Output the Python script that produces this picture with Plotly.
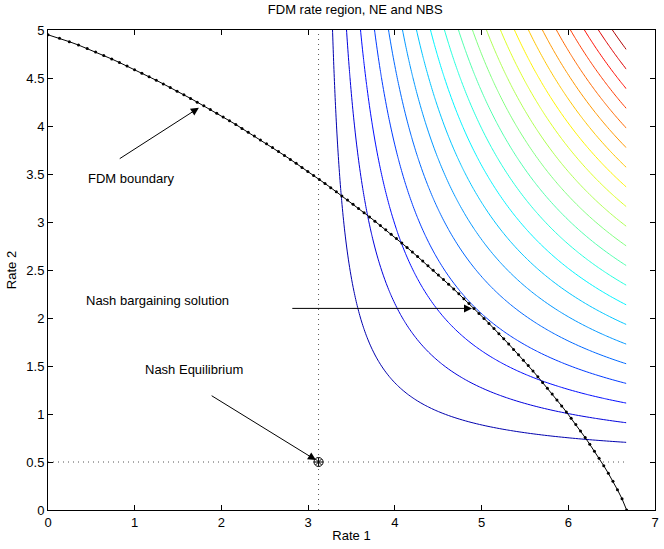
import numpy as np
import plotly.graph_objects as go

# ---------------- data ----------------
# FDM boundary (Rate 1, Rate 2)
fdm_rate1 = [
    0.000, 0.133, 0.246, 0.352, 0.452, 0.549, 0.643, 0.735, 0.824, 0.912,
    0.998, 1.083, 1.166, 1.249, 1.330, 1.410, 1.489, 1.567, 1.644, 1.721,
    1.797, 1.872, 1.946, 2.020, 2.093, 2.166, 2.237, 2.309, 2.380, 2.450,
    2.520, 2.589, 2.658, 2.727, 2.795, 2.862, 2.929, 2.996, 3.063, 3.129,
    3.194, 3.260, 3.325, 3.389, 3.454, 3.518, 3.581, 3.645, 3.708, 3.770,
    3.833, 3.895, 3.957, 4.018, 4.080, 4.141, 4.202, 4.262, 4.322, 4.382,
    4.442, 4.502, 4.561, 4.620, 4.679, 4.738, 4.796, 4.855, 4.913, 4.970,
    5.028, 5.085, 5.143, 5.200, 5.256, 5.313, 5.369, 5.426, 5.482, 5.538,
    5.593, 5.649, 5.704, 5.759, 5.814, 5.869, 5.924, 5.978, 6.033, 6.087,
    6.141, 6.195, 6.248, 6.302, 6.355, 6.409, 6.462, 6.515, 6.567, 6.620,
    6.673,
]
fdm_rate2 = [
    4.950, 4.914, 4.878, 4.843, 4.807, 4.770, 4.734, 4.698, 4.661, 4.624,
    4.587, 4.550, 4.513, 4.476, 4.438, 4.401, 4.363, 4.325, 4.287, 4.248,
    4.210, 4.171, 4.132, 4.093, 4.054, 4.015, 3.975, 3.935, 3.895, 3.855,
    3.815, 3.775, 3.734, 3.693, 3.652, 3.611, 3.569, 3.527, 3.485, 3.443,
    3.401, 3.358, 3.315, 3.272, 3.229, 3.185, 3.141, 3.097, 3.053, 3.008,
    2.963, 2.918, 2.872, 2.827, 2.780, 2.734, 2.687, 2.640, 2.593, 2.545,
    2.497, 2.449, 2.400, 2.351, 2.302, 2.252, 2.201, 2.151, 2.100, 2.048,
    1.996, 1.944, 1.891, 1.837, 1.783, 1.729, 1.673, 1.618, 1.561, 1.504,
    1.447, 1.388, 1.329, 1.269, 1.209, 1.147, 1.084, 1.021, 0.956, 0.890,
    0.823, 0.754, 0.684, 0.612, 0.538, 0.461, 0.382, 0.299, 0.211, 0.116,
    0.000,
]

# Nash equilibrium
ne_rate1 = 3.12
ne_rate2 = 0.50

# extent of the Nash-product contour region
contour_rate1_max = 6.67
contour_rate2_max = 5.0

# contour levels of the Nash product (R1-NE1)(R2-NE2)
nash_levels = [0.726, 1.452, 2.178, 2.905, 3.631, 4.357, 5.083, 5.809, 6.535, 7.261,
               7.988, 8.714, 9.440, 10.166, 10.892, 11.618, 12.344, 13.071, 13.797,
               14.523, 15.249]
nash_max = 15.975  # colour scale top (max of Nash product over the region)

# dotted guide lines through the NE
guide_v_rate2 = [0.0, 5.0]
guide_h_rate1 = [0.0, 6.67]

x_ticks = [0, 1, 2, 3, 4, 5, 6, 7]
y_ticks = [0, 0.5, 1, 1.5, 2, 2.5, 3, 3.5, 4, 4.5, 5]

# annotations: (text, x, y)
labels = [
    ("FDM boundary", 0.44, 3.45),
    ("Nash bargaining solution", 0.41, 2.18),
    ("Nash Equilibrium", 1.10, 1.46),
]
# arrows: (tail_x, tail_y, head_x, head_y)
arrows = [
    (0.81, 3.65, 1.74, 4.19),
    (2.80, 2.10, 4.89, 2.10),
    (1.87, 1.20, 3.09, 0.52),
]


def jet(f):
    f = min(max(f, 0.0), 1.0)
    r = min(max(min(4 * f - 1.5, -4 * f + 4.5), 0), 1)
    g = min(max(min(4 * f - 0.5, -4 * f + 3.5), 0), 1)
    b = min(max(min(4 * f + 0.5, -4 * f + 2.5), 0), 1)
    return "rgb(%d,%d,%d)" % (round(r * 255), round(g * 255), round(b * 255))


fig = go.Figure()

# contour grid of the Nash product
gx = np.linspace(ne_rate1, contour_rate1_max, 110)
gy = np.linspace(ne_rate2, contour_rate2_max, 110)
GX, GY = np.meshgrid(gx, gy)
Z = np.round((GX - ne_rate1) * (GY - ne_rate2), 4)

for lev in nash_levels:
    fig.add_trace(go.Contour(
        x=np.round(gx, 4), y=np.round(gy, 4), z=Z,
        contours=dict(start=lev, end=lev, size=1, coloring="none"),
        line=dict(color=jet(lev / nash_max), width=1, smoothing=1),
        showscale=False, hoverinfo="skip",
    ))

# dotted guide lines
fig.add_trace(go.Scatter(x=[ne_rate1, ne_rate1], y=guide_v_rate2, mode="lines",
                         line=dict(color="#555555", width=1, dash="1px,4px"), showlegend=False))
fig.add_trace(go.Scatter(x=guide_h_rate1, y=[ne_rate2, ne_rate2], mode="lines",
                         line=dict(color="#555555", width=1, dash="1px,4px"), showlegend=False))

# FDM boundary
fig.add_trace(go.Scatter(x=fdm_rate1, y=fdm_rate2, mode="lines+markers",
                         line=dict(color="black", width=1),
                         marker=dict(color="black", size=3),
                         showlegend=False))

# NE marker
fig.add_trace(go.Scatter(x=[ne_rate1], y=[ne_rate2], mode="markers",
                         marker=dict(symbol="circle-open", size=9, color="black",
                                     line=dict(width=1, color="black")),
                         showlegend=False))
fig.add_trace(go.Scatter(x=[ne_rate1], y=[ne_rate2], mode="markers",
                         marker=dict(symbol="asterisk-open", size=7, color="black",
                                     line=dict(width=1, color="black")),
                         showlegend=False))

font_family = "Liberation Sans, Arial, Helvetica, sans-serif"

annotations = []
for txt, x, y in labels:
    annotations.append(dict(x=x, y=y, xref="x", yref="y", text=txt, showarrow=False,
                            xanchor="left", yanchor="middle",
                            font=dict(size=13, color="black", family=font_family)))
for tx, ty, hx, hy in arrows:
    annotations.append(dict(x=hx, y=hy, ax=tx, ay=ty, xref="x", yref="y",
                            axref="x", ayref="y", text="", showarrow=True,
                            arrowhead=2, arrowsize=1.6, arrowwidth=1,
                            arrowcolor="black", standoff=0))

axis_common = dict(showline=True, linecolor="black", linewidth=1, mirror="ticks",
                   ticks="inside", ticklen=5, tickcolor="black", showgrid=False,
                   zeroline=False, automargin=False,
                   tickfont=dict(size=13, color="black", family=font_family))

fig.update_layout(
    width=664, height=549,
    margin=dict(l=48, r=9, t=30, b=39),
    paper_bgcolor="white", plot_bgcolor="white",
    title=dict(text="FDM rate region, NE and NBS", x=0.535, xanchor="center",
               y=0.982, yanchor="middle", yref="container", automargin=False,
               font=dict(size=13, color="black", family=font_family)),
    xaxis=dict(range=[0, 7], tickvals=x_ticks, ticktext=[str(v) for v in x_ticks],
               title=dict(text="Rate 1", standoff=2,
                          font=dict(size=13, color="black", family=font_family)),
               **axis_common),
    yaxis=dict(range=[0, 5], tickvals=y_ticks, ticktext=["%g" % v for v in y_ticks],
               title=dict(text="Rate 2", standoff=6,
                          font=dict(size=13, color="black", family=font_family)),
               **axis_common),
    annotations=annotations,
    showlegend=False,
)

fig.write_html("out.html", config={"displayModeBar": False},
               post_script="document.body.style.margin='0';document.body.style.padding='0';")
